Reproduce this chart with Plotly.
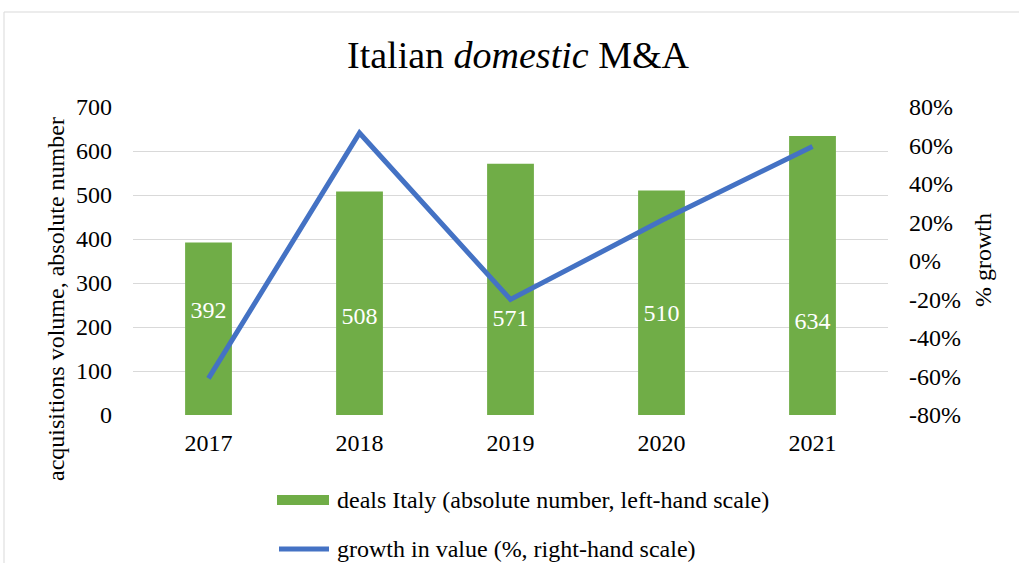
import plotly.graph_objects as go

# Data
years = ["2017", "2018", "2019", "2020", "2021"]
deals = [392, 508, 571, 510, 634]
growth = [-0.61, 0.665, -0.20, 0.21, 0.595]

deals_name = "deals Italy (absolute number, left-hand scale)"
growth_name = "growth in value (%, right-hand scale)"

left_ticks = [0, 100, 200, 300, 400, 500, 600, 700]
right_ticks = [-0.8, -0.6, -0.4, -0.2, 0.0, 0.2, 0.4, 0.6, 0.8]

# Canvas and plot-area geometry (pixels)
W, H = 1019, 563
ML, MR, MT, MB = 133, 131, 107, 148
PW, PH = W - ML - MR, H - MT - MB

GREEN = "#70AD47"
BLUE = "#4472C4"
GRID = "#D9D9D9"
FONT = "Liberation Serif, Times New Roman, serif"
FS = 24


def fx(px):
    return (px - ML) / PW


def fy(py):
    return (H - MB - py) / PH


fig = go.Figure()

fig.add_trace(go.Bar(
    x=years, y=deals, name=deals_name, marker=dict(color=GREEN, line=dict(width=0)),
    width=0.31, yaxis="y", showlegend=False,
))

# value labels inside the bars (heights in left-axis units)
label_y = [234, 220, 216, 227, 209]
fig.add_trace(go.Scatter(
    x=years, y=label_y, mode="text", text=[str(v) for v in deals],
    textfont=dict(family=FONT, size=FS, color="white"),
    textposition="middle center", yaxis="y", showlegend=False, hoverinfo="skip",
))

fig.add_trace(go.Scatter(
    x=years, y=growth, name=growth_name, mode="lines",
    line=dict(color=BLUE, width=5), yaxis="y2", showlegend=False,
))

annotations = []

# title
annotations.append(dict(
    x=fx(518), y=fy(55), xref="paper", yref="paper",
    text="Italian <i>domestic</i> M&A", showarrow=False,
    font=dict(family=FONT, size=38, color="black"),
    xanchor="center", yanchor="middle",
))

# axis titles
annotations.append(dict(
    x=fx(56), y=fy(299), xref="paper", yref="paper",
    text="acquisitions volume, absolute number", showarrow=False, textangle=-90,
    font=dict(family=FONT, size=FS, color="black"),
    xanchor="center", yanchor="middle",
))
annotations.append(dict(
    x=fx(983), y=fy(260), xref="paper", yref="paper",
    text="% growth", showarrow=False, textangle=-90,
    font=dict(family=FONT, size=FS, color="black"),
    xanchor="center", yanchor="middle",
))

# legend texts
annotations.append(dict(
    x=fx(335), y=fy(500), xref="paper", yref="paper", text=deals_name,
    showarrow=False, xanchor="left", yanchor="middle",
    font=dict(family=FONT, size=FS, color="black"),
))
annotations.append(dict(
    x=fx(335), y=fy(549), xref="paper", yref="paper", text=growth_name,
    showarrow=False, xanchor="left", yanchor="middle",
    font=dict(family=FONT, size=FS, color="black"),
))

shapes = [
    # chart border
    dict(type="rect", xref="paper", yref="paper",
         x0=fx(4), y0=fy(12), x1=fx(1040), y1=fy(600),
         line=dict(color=GRID, width=1), fillcolor="rgba(0,0,0,0)", layer="below"),
    # legend swatches
    dict(type="rect", xref="paper", yref="paper",
         x0=fx(277), x1=fx(329), y0=fy(505), y1=fy(495),
         line=dict(width=0), fillcolor=GREEN),
    dict(type="line", xref="paper", yref="paper",
         x0=fx(279), x1=fx(329), y0=fy(549), y1=fy(549),
         line=dict(color=BLUE, width=5)),
]

tick_font = dict(family=FONT, size=FS, color="black")

fig.update_layout(
    width=W, height=H,
    margin=dict(l=ML, r=MR, t=MT, b=MB, pad=0),
    paper_bgcolor="white", plot_bgcolor="white",
    font=dict(family=FONT, color="black"),
    bargap=0.69,
    xaxis=dict(
        type="category", range=[-0.5, 4.5], showgrid=False, showline=False,
        zeroline=False, ticks="", tickfont=tick_font, ticklabelstandoff=11,
    ),
    yaxis=dict(
        range=[0, 700], tickvals=left_ticks, ticktext=[str(t) for t in left_ticks],
        showgrid=True, gridcolor=GRID, gridwidth=1.3,
        zeroline=False, showline=False, ticks="", tickfont=tick_font,
        ticklabelstandoff=20,
    ),
    yaxis2=dict(
        range=[-0.8, 0.8], overlaying="y", side="right",
        tickvals=right_ticks, ticktext=[f"{round(t * 100)}%" for t in right_ticks],
        showgrid=False, zeroline=False, showline=False,
        ticks="", tickfont=tick_font, ticklabelstandoff=20,
    ),
    annotations=annotations,
    shapes=shapes,
)

fig.write_html("out.html")
